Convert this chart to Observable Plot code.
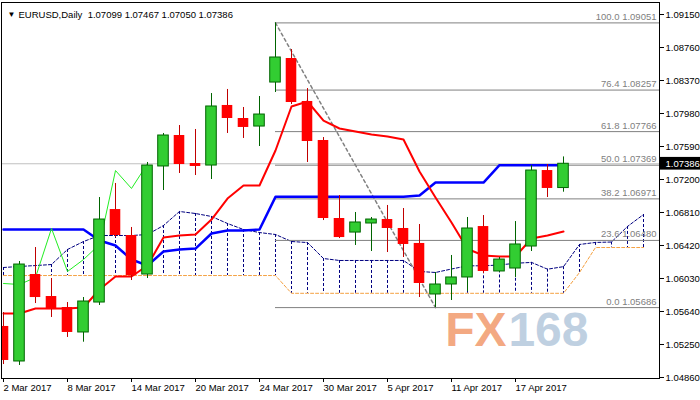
<!DOCTYPE html>
<html><head><meta charset="utf-8">
<script src="https://cdn.jsdelivr.net/npm/d3@7"></script>
<script src="https://cdn.jsdelivr.net/npm/@observablehq/plot@0.6"></script>
<style>html,body{margin:0;padding:0;background:#fff}</style>
</head><body><div id="chart"></div>
<script>
const symbol = "EURUSD,Daily";
const dates = ["2 Mar 2017","3 Mar 2017","6 Mar 2017","7 Mar 2017","8 Mar 2017","9 Mar 2017","10 Mar 2017","13 Mar 2017","14 Mar 2017","15 Mar 2017","16 Mar 2017","17 Mar 2017","20 Mar 2017","21 Mar 2017","22 Mar 2017","23 Mar 2017","24 Mar 2017","27 Mar 2017","28 Mar 2017","29 Mar 2017","30 Mar 2017","31 Mar 2017","3 Apr 2017","4 Apr 2017","5 Apr 2017","6 Apr 2017","7 Apr 2017","10 Apr 2017","11 Apr 2017","12 Apr 2017","13 Apr 2017","14 Apr 2017","17 Apr 2017","18 Apr 2017","19 Apr 2017","20 Apr 2017"];
const opens  = [1.05463,1.05049,1.06077,1.05817,1.05687,1.05392,1.05746,1.06845,1.06538,1.06077,1.07354,1.07720,1.07389,1.07365,1.08075,1.07921,1.07826,1.08346,1.08630,1.08122,1.07661,1.06739,1.06573,1.06680,1.06727,1.06621,1.06444,1.05841,1.05959,1.06042,1.06644,1.06113,1.06148,1.06408,1.07306,1.07099];
const highs  = [1.05628,1.06231,1.06396,1.06030,1.05746,1.05805,1.06987,1.07153,1.06633,1.07401,1.07744,1.07838,1.07791,1.08216,1.08264,1.08051,1.08181,1.09051,1.08736,1.08275,1.07696,1.07011,1.06810,1.06751,1.06893,1.06857,1.06668,1.06101,1.06302,1.06751,1.06774,1.06278,1.06703,1.07365,1.07377,1.07467];
const lows   = [1.05013,1.05002,1.05734,1.05569,1.05333,1.05277,1.05711,1.06514,1.06006,1.06030,1.07070,1.07271,1.07247,1.07200,1.07744,1.07685,1.07590,1.08228,1.08086,1.07401,1.06715,1.06502,1.06420,1.06349,1.06337,1.06278,1.05805,1.05686,1.05770,1.05876,1.06089,1.06101,1.06042,1.06349,1.06987,1.07050];
const closes = [1.05061,1.06195,1.05805,1.05663,1.05392,1.05758,1.06727,1.06538,1.06065,1.07365,1.07720,1.07377,1.07354,1.08063,1.07921,1.07815,1.07968,1.08642,1.08110,1.07649,1.06739,1.06514,1.06692,1.06727,1.06621,1.06432,1.05971,1.05959,1.06042,1.06621,1.06113,1.06254,1.06432,1.07306,1.07094,1.07386];
// Ichimoku lines
const tenkan = [1.05616,1.05616,1.05675,1.05675,1.05675,1.05687,1.05900,1.06053,1.06053,1.06183,1.06514,1.06538,1.06550,1.06727,1.06975,1.07129,1.07129,1.07543,1.08063,1.08122,1.07897,1.07803,1.07767,1.07732,1.07708,1.07673,1.07294,1.06987,1.06692,1.06378,1.06302,1.06290,1.06290,1.06503,1.06538,1.06585];
const kijun  = [1.06609,1.06609,1.06609,1.06609,1.06609,1.06609,1.06479,1.06420,1.06254,1.06183,1.06349,1.06373,1.06384,1.06562,1.06597,1.06597,1.06609,1.06995,1.06995,1.06995,1.06995,1.06995,1.06995,1.06995,1.06995,1.06995,1.07010,1.07164,1.07164,1.07164,1.07164,1.07369,1.07369,1.07369,1.07369,1.07369];
const senkouA = [1.06160,1.06172,1.06183,1.06195,1.06373,1.06467,1.06538,1.06538,1.06538,1.06550,1.06656,1.06822,1.06798,1.06763,1.06680,1.06609,1.06573,1.06550,1.06467,1.06455,1.06266,1.06243,1.06243,1.06243,1.06243,1.06243,1.06113,1.06101,1.06142,1.06180,1.06180,1.06190,1.06210,1.06220,1.06140,1.06170,1.06432,1.06456,1.06461,1.06645,1.06786];
const senkouB = [1.06065,1.06065,1.06065,1.06065,1.06065,1.06065,1.06065,1.06065,1.06065,1.06065,1.06065,1.06065,1.06065,1.06065,1.06065,1.06065,1.06065,1.06065,1.05855,1.05855,1.05855,1.05855,1.05855,1.05855,1.05855,1.05855,1.05855,1.05855,1.05855,1.05855,1.05855,1.05855,1.05855,1.05855,1.05855,1.05855,1.06101,1.06396,1.06396,1.06396,1.06396];
const chikouShift = 26;
// Fibonacci
const fibLevels = [100.0, 76.4, 61.8, 50.0, 38.2, 23.6, 0.0];
const fibPrices = [1.09051, 1.08257, 1.07766, 1.07369, 1.06971, 1.06480, 1.05686];
const fibHighIdx = 17, fibLowIdx = 27;
// axes
const yTicks = [1.04860,1.05250,1.05640,1.06030,1.06420,1.06810,1.07200,1.07590,1.07980,1.08370,1.08760,1.09150];
const xTickIdx = [0,4,8,12,16,20,24,28,32];

const n = closes.length;
const bars = d3.range(n).map(i => ({i, o: opens[i], h: highs[i], l: lows[i], c: closes[i], up: closes[i] >= opens[i]}));
const cloud = senkouA.map((a, i) => ({i, a, b: senkouB[i]}));
const chikou = closes.slice(chikouShift).map((c, i) => ({i, c}));
const last = bars[n - 1];
const xMax = 41;
const fibs = fibLevels.map((lv, k) => ({lv, p: fibPrices[k]}));

const f5 = d3.format(".5f");
const header = `${symbol}  ${f5(last.o)} ${f5(last.h)} ${f5(last.l)} ${f5(last.c)}`;

const chart = Plot.plot({
  width: 700, height: 400,
  marginLeft: 1, marginRight: 41, marginTop: 2, marginBottom: 22,
  style: {fontFamily: "'Liberation Sans', Arial, sans-serif", fontSize: "9.5px", background: "#fff", color: "#000", overflow: "visible"},
  x: {domain: [-0.125, xMax], axis: null},
  y: {domain: [1.04848, 1.09292], axis: null},
  marks: [
    // cloud
    Plot.ruleX(cloud, {x: "i", y1: "a", y2: "b", stroke: "#000080", strokeDasharray: "3,2", clip: true}),
    Plot.line(cloud, {x: "i", y: "b", stroke: "#f4a040", strokeWidth: 1, strokeDasharray: "3,2", clip: true}),
    Plot.line(cloud, {x: "i", y: "a", stroke: "#000080", strokeWidth: 1, strokeDasharray: "3,2", clip: true}),
    // bid line
    Plot.ruleY([last.c], {stroke: "#c0c0c0"}),
    // fibonacci
    Plot.ruleY(fibs, {y: "p", x1: fibHighIdx, x2: xMax, stroke: "#808080"}),
    Plot.line([{i: fibHighIdx, p: highs[fibHighIdx]}, {i: fibLowIdx, p: lows[fibLowIdx]}], {x: "i", y: "p", stroke: "#808080", strokeDasharray: "3,3"}),
    Plot.text(fibs, {x: xMax, y: "p", text: d => `${d.lv.toFixed(1)} ${d.p.toFixed(5)}`, textAnchor: "end", dx: -3, dy: -6, fill: "#808080"}),
    // ichimoku lines
    Plot.line(kijun, {x: (d, i) => i, y: d => d, stroke: "#0000ff", strokeWidth: 2.5, clip: true}),
    Plot.line(tenkan, {x: (d, i) => i, y: d => d, stroke: "#ff0000", strokeWidth: 2, clip: true}),
    Plot.line(chikou, {x: "i", y: "c", stroke: "#22ee22", strokeWidth: 1, clip: true}),
    // candles
    Plot.ruleX(bars.filter(d => d.up), {x: "i", y1: "l", y2: "h", stroke: "#006400", clip: true}),
    Plot.ruleX(bars.filter(d => !d.up), {x: "i", y1: "l", y2: "h", stroke: "#c00000", clip: true}),
    Plot.rect(bars.filter(d => d.up), {x1: d => d.i - 0.33, x2: d => d.i + 0.33, y1: "o", y2: "c", fill: "#32cd32", stroke: "#006400", clip: true}),
    Plot.rect(bars.filter(d => !d.up), {x1: d => d.i - 0.33, x2: d => d.i + 0.33, y1: "o", y2: "c", fill: "#ff0000", clip: true}),
    // watermark
    Plot.text(["FX"], {frameAnchor: "bottom-right", text: d => d, dx: -153, dy: -33, textAnchor: "end", fontSize: 48, fontWeight: "bold", fill: "#f19a6c", fillOpacity: 0.85}),
    Plot.text(["168"], {frameAnchor: "bottom-right", text: d => d, dx: -71, dy: -33, textAnchor: "end", fontSize: 48, fontWeight: "bold", fill: "#b4c8dc", fillOpacity: 0.85}),
    // header
    Plot.text(["\u25BC"], {frameAnchor: "top-left", text: d => d, dx: 6, dy: 9, fontSize: 8}),
    Plot.text([header], {frameAnchor: "top-left", text: d => d, dx: 17, dy: 9, textAnchor: "start"}),
    Plot.frame({stroke: "#000"}),
    // axes
    Plot.axisX({ticks: xTickIdx, tickFormat: i => dates[i], textAnchor: "start", tickSize: 4, tickPadding: 2, label: null}),
    Plot.axisY({anchor: "right", ticks: yTicks, tickFormat: f5, tickSize: 4, tickPadding: 2, textAnchor: "start", label: null}),
    // current price tag
    Plot.rect([last.c], {x1: xMax, x2: xMax + 3, y1: d => d - 0.00075, y2: d => d + 0.00075, fill: "#000"}),
    Plot.text([last.c], {x: xMax, y: d => d, text: d => f5(d), dx: 6, textAnchor: "start", fill: "#fff"})
  ]
});
document.getElementById("chart").appendChild(chart);
</script>
</body></html>
